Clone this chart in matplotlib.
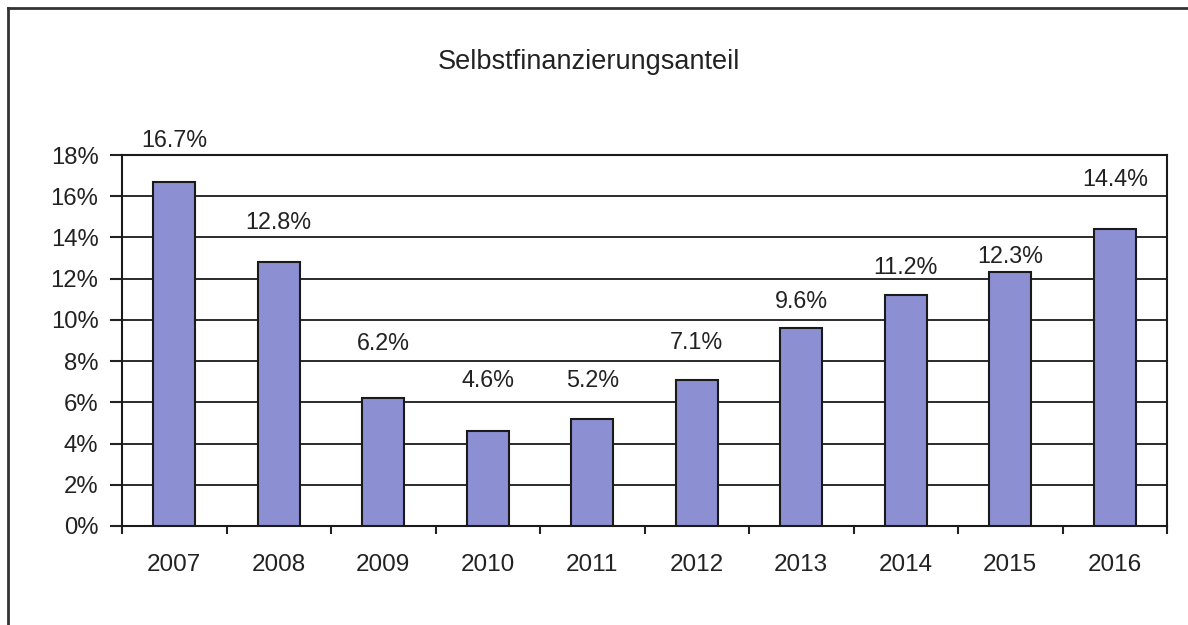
import matplotlib
matplotlib.use("Agg")
import matplotlib.pyplot as plt
from matplotlib.lines import Line2D
import numpy as np

years = ["2007", "2008", "2009", "2010", "2011", "2012", "2013", "2014", "2015", "2016"]
values = [16.7, 12.8, 6.2, 4.6, 5.2, 7.1, 9.6, 11.2, 12.3, 14.4]
title = "Selbstfinanzierungsanteil"

# per-label vertical offsets above the bar top (pixels), as placed in the original
label_offsets_px = [41, 40, 55, 51, 38, 37, 27, 28, 16, 50]

plt.rcParams['font.family'] = ['Liberation Sans', 'DejaVu Sans']
fig = plt.figure(figsize=(11.88, 6.25), dpi=100)
ax = fig.add_axes([122/1188, 1-526/625, (1167-122)/1188, (526-155)/625])

x = np.arange(len(years))
ax.bar(x, values, width=0.4, color="#8c8fd2", edgecolor="#1a1a1a", linewidth=1.5, zorder=3)
ax.set_xlim(-0.5, len(years)-0.5)
ax.set_ylim(0, 18)
yt = np.arange(0, 19, 2)
ax.set_yticks(yt)
ax.set_yticklabels([f"{v}%" for v in yt], fontsize=17.2, color="#222222")
ax.set_xticks(x)
ax.set_xticklabels(years, fontsize=17.5, color="#222222")
ax.tick_params(axis='x', length=0, pad=20)
ax.set_xticks(np.arange(-0.5, len(years), 1), minor=True)
ax.tick_params(axis='x', which='minor', length=6, width=1.5, direction='out', color="#222222")
ax.tick_params(axis='y', length=9, width=1.5, direction='out', color="#222222", pad=8)
ax.grid(axis='y', color="#1a1a1a", linewidth=1.3, zorder=1)
for s in ax.spines.values():
    s.set_linewidth(1.5)
    s.set_color("#1a1a1a")

for xi, v, off in zip(x, values, label_offsets_px):
    ax.annotate(f"{v}%", (xi, v), xytext=(0, off*0.72), textcoords='offset points',
                ha='center', va='center', fontsize=16.8, color="#222222", zorder=4)

fig.text(589/1188, 1-62/625, title, ha='center', va='center', fontsize=19.5, color="#222222")

# outer border
fig.add_artist(Line2D([8/1188, 8/1188], [0, 1-8/625], transform=fig.transFigure, color="#333333", linewidth=2))
fig.add_artist(Line2D([8/1188, 1], [1-8/625, 1-8/625], transform=fig.transFigure, color="#333333", linewidth=2))

fig.savefig("out.png", dpi=100)
